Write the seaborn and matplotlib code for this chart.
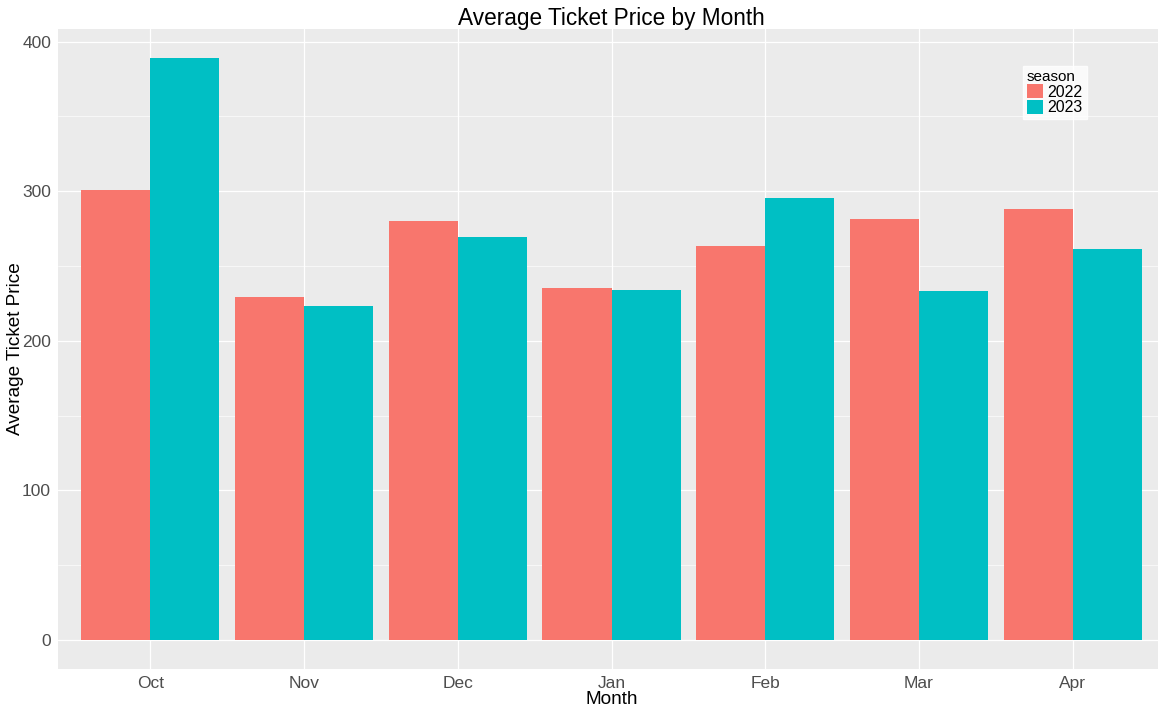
import numpy as np
import pandas as pd
import matplotlib
matplotlib.use("Agg")
import matplotlib.pyplot as plt
from matplotlib.ticker import MultipleLocator
import seaborn as sns

# data
months = ["Oct", "Nov", "Dec", "Jan", "Feb", "Mar", "Apr"]
price_2022 = [301, 229.5, 280, 235.5, 263.5, 281.5, 288]
price_2023 = [388.7, 223.5, 269.5, 234, 295.5, 233.5, 261.5]
seasons = ["2022", "2023"]

df = pd.DataFrame({
    "month": months * 2,
    "price": price_2022 + price_2023,
    "season": [seasons[0]] * len(months) + [seasons[1]] * len(months),
})

sns.set_style("darkgrid", {"axes.facecolor": "#EBEBEB", "grid.color": "white"})
plt.rcParams["font.family"] = ["Liberation Sans", "DejaVu Sans"]
plt.rcParams["text.color"] = "black"

fig = plt.figure(figsize=(11.58, 7.06), dpi=100)
# the panel runs a little past the right edge of the image, as in the reference
ax = fig.add_axes([58 / 1158, 1 - 669 / 706, 1107 / 1158, 640 / 706])

sns.barplot(data=df, x="month", y="price", hue="season", order=months,
            hue_order=seasons, palette=["#F8766D", "#00BFC4"], width=0.9,
            saturation=1, linewidth=0, ax=ax)

ax.set_xlim(-0.6, 6.6)
ax.set_ylim(-19.45, 408.4)
ax.yaxis.set_major_locator(MultipleLocator(100))
ax.yaxis.set_minor_locator(MultipleLocator(50))
ax.grid(which="major", color="white", linewidth=0.9)
ax.grid(which="minor", axis="y", color="white", linewidth=0.45)
ax.set_axisbelow(True)
for s in ax.spines.values():
    s.set_visible(False)

ax.tick_params(axis="both", which="major", length=3, width=0.8, color="#333333",
               labelsize=12.5, labelcolor="#4D4D4D", pad=2)
ax.tick_params(axis="y", which="minor", length=0)

ax.set_xlabel("Month", fontsize=13.7, color="black", labelpad=0)
ax.set_ylabel("Average Ticket Price", fontsize=13.7, color="black")
ax.yaxis.set_label_coords(-0.031, 0.5)
ax.set_title("Average Ticket Price by Month", fontsize=16.3, color="black", pad=3)

handles, labels = ax.get_legend_handles_labels()
leg = ax.legend(handles, labels, title="season", loc="upper left",
                bbox_to_anchor=(0.8715, 0.942), frameon=True, fontsize=11.5,
                title_fontsize=11, handlelength=1.0, handleheight=1.0,
                handletextpad=0.3, labelspacing=0.0, borderpad=0.25,
                borderaxespad=0, fancybox=False)
leg.get_frame().set_facecolor("white")
leg.get_frame().set_edgecolor("white")
leg._legend_box.align = "left"
for t in leg.get_texts():
    t.set_color("black")

fig.savefig("out.png", dpi=100)
